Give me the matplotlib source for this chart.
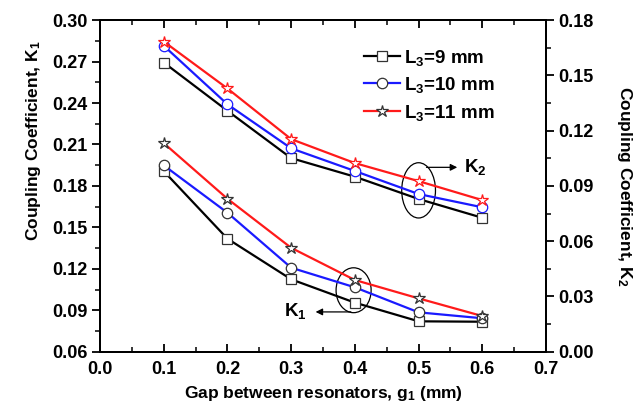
import matplotlib
matplotlib.use("Agg")
import matplotlib.pyplot as plt
from matplotlib.patches import Ellipse
from matplotlib.ticker import MultipleLocator, FormatStrFormatter

plt.rcParams["font.family"] = ["Liberation Sans", "DejaVu Sans"]
plt.rcParams["font.weight"] = "bold"
plt.rcParams["mathtext.fontset"] = "custom"
plt.rcParams["mathtext.rm"] = "Liberation Sans:bold"
plt.rcParams["mathtext.bf"] = "Liberation Sans:bold"
plt.rcParams["mathtext.default"] = "bf"

gap = [0.1, 0.2, 0.3, 0.4, 0.5, 0.6]
labels = ["L$_3$=9 mm", "L$_3$=10 mm", "L$_3$=11 mm"]

# K1 (left axis)
k1_9 = [0.1907, 0.1418, 0.1124, 0.0955, 0.0820, 0.0817]
k1_10 = [0.1949, 0.1606, 0.1208, 0.1066, 0.0885, 0.0842]
k1_11 = [0.2110, 0.1707, 0.1352, 0.1119, 0.0986, 0.0858]

# K2 (right axis)
k2_9 = [0.1570, 0.1308, 0.1051, 0.0950, 0.0829, 0.0727]
k2_10 = [0.1661, 0.1343, 0.1104, 0.0981, 0.0856, 0.0784]
k2_11 = [0.1684, 0.1429, 0.1154, 0.1024, 0.0926, 0.0823]

colors = ["black", "#1a1aff", "#ff1a1a"]
markers = ["s", "o", "*"]
msizes = [6.5, 7.5, 9]
TICK_FS = 13
LABEL_FS = 12.5

fig = plt.figure(figsize=(6.33, 4.2), dpi=100)
ax = fig.add_axes([0.158, 0.1626, 0.7046, 0.7894])
ax2 = ax.twinx()

handles = []
for ys, c, m, ms, lab in zip([k1_9, k1_10, k1_11], colors, markers, msizes, labels):
    h, = ax.plot(gap, ys, color=c, lw=1.6, marker=m, ms=ms, mfc="white",
                 mec="#333333", mew=0.9, label=lab)
    handles.append(h)
for ys, c, m, ms in zip([k2_9, k2_10, k2_11], colors, markers, msizes):
    mec = "#333333" if c == "black" else c
    ax2.plot(gap, ys, color=c, lw=1.6, marker=m, ms=ms, mfc="white",
             mec=mec, mew=0.9)

ax.set_xlim(0.0, 0.7)
ax.set_ylim(0.06, 0.30)
ax2.set_ylim(0.0, 0.18)
ax.xaxis.set_major_locator(MultipleLocator(0.1))
ax.xaxis.set_minor_locator(MultipleLocator(0.05))
for a in (ax, ax2):
    a.yaxis.set_major_locator(MultipleLocator(0.03))
    a.yaxis.set_minor_locator(MultipleLocator(0.015))
    a.yaxis.set_major_formatter(FormatStrFormatter("%.2f"))
    a.tick_params(axis="y", which="major", direction="out", length=6, width=1.3,
                  labelsize=TICK_FS, pad=3)
    a.tick_params(axis="y", which="minor", direction="out", length=3.5, width=1.1)
    for s in a.spines.values():
        s.set_linewidth(1.4)
ax.xaxis.set_major_formatter(FormatStrFormatter("%.1f"))
ax.tick_params(axis="x", which="both", direction="in", top=True, labelsize=TICK_FS, pad=7)
ax.tick_params(axis="x", which="major", length=6, width=1.3)
ax.tick_params(axis="x", which="minor", length=3.5, width=1.1)
for t in ax.get_xticklabels() + ax.get_yticklabels() + ax2.get_yticklabels():
    t.set_fontweight("bold")

ax.set_xlabel("Gap between resonators, g$_1$ (mm)", fontsize=LABEL_FS,
              fontweight="bold", labelpad=4)
ax.set_ylabel("Coupling Coefficient, K$_1$", fontsize=LABEL_FS, fontweight="bold")
ax.yaxis.set_label_coords(-0.128, 0.635)
ax2.set_ylabel("Coupling Coefficient, K$_2$", fontsize=LABEL_FS, fontweight="bold",
               rotation=270, va="center")
ax2.yaxis.set_label_coords(1.175, 0.5)

leg = ax.legend(handles=handles, loc="upper left", bbox_to_anchor=(0.575, 0.94),
                frameon=False, fontsize=13.5, handlelength=1.9, handletextpad=0.25,
                labelspacing=0.4, borderaxespad=0)
for t in leg.get_texts():
    t.set_fontweight("bold")

# ellipses and arrows marking which set belongs to which axis
ax2.add_patch(Ellipse((0.5, 0.0876), 0.053, 0.030, fill=False, ec="black", lw=0.9))
ax2.annotate("", xy=(0.565, 0.1001), xytext=(0.508, 0.1001),
             arrowprops=dict(arrowstyle="-|>", color="black", lw=0.9,
                             mutation_scale=10))
ax2.text(0.572, 0.1001, "K$_2$", fontsize=13.5, va="center", ha="left")

ax.add_patch(Ellipse((0.398, 0.1045), 0.055, 0.0325, fill=False, ec="black", lw=0.9))
ax.annotate("", xy=(0.334, 0.0888), xytext=(0.398, 0.0888),
            arrowprops=dict(arrowstyle="-|>", color="black", lw=0.9,
                            mutation_scale=10))
ax.text(0.325, 0.0895, "K$_1$", fontsize=13.5, va="center", ha="right")

fig.savefig("out.png", dpi=100)
